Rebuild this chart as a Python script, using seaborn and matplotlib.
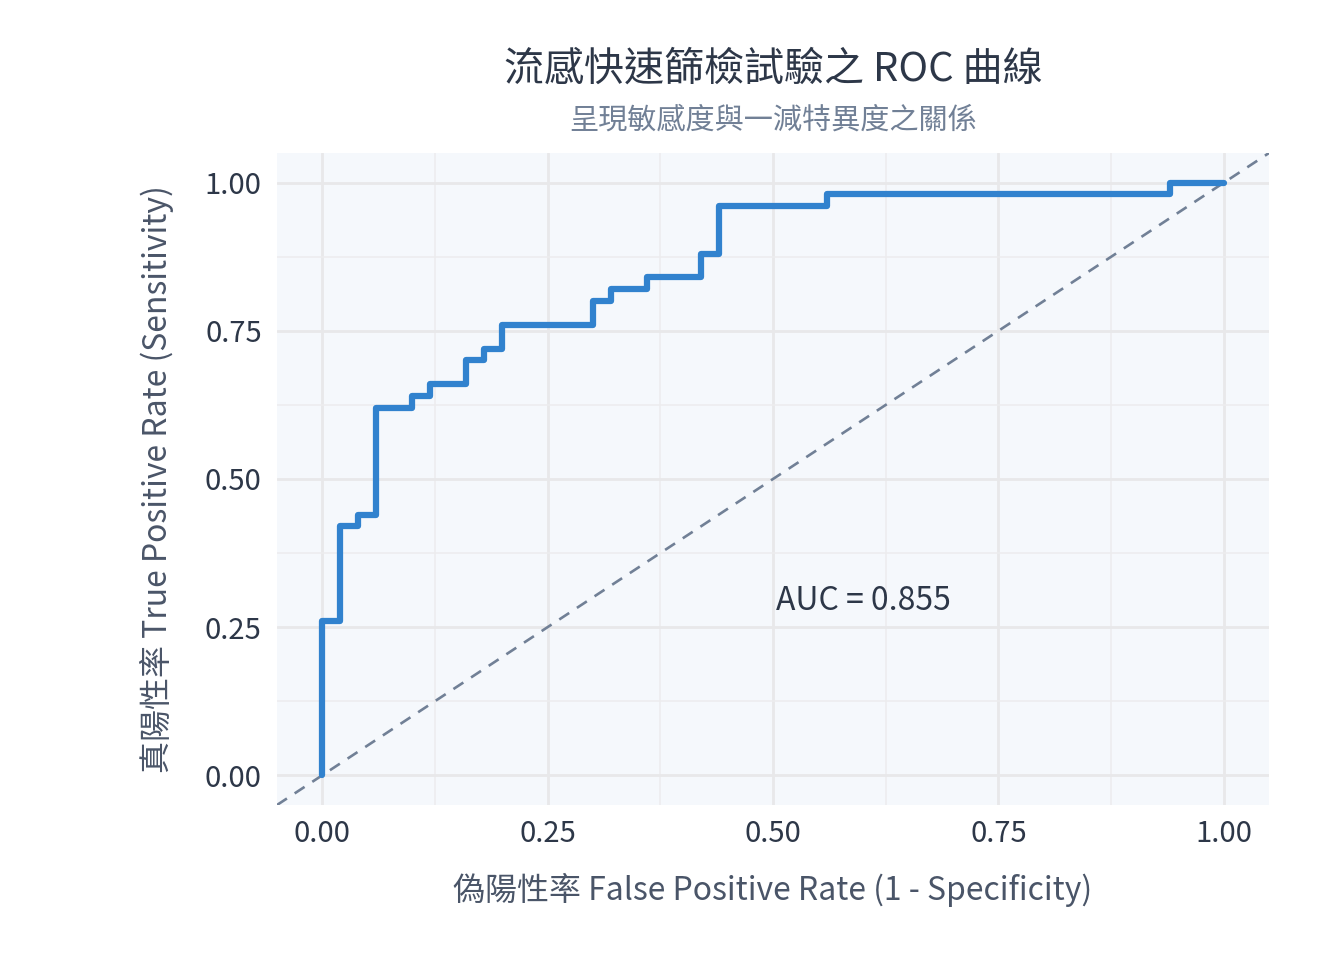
import numpy as np
import pandas as pd
import seaborn as sns
import matplotlib.pyplot as plt
from matplotlib.ticker import MultipleLocator

# ROC corner points (50 positives / 50 negatives)
fpr = [0.00, 0.00, 0.02, 0.04, 0.06, 0.10, 0.12, 0.16, 0.18, 0.20,
       0.30, 0.32, 0.36, 0.42, 0.44, 0.56, 0.94, 1.00]
tpr = [0.00, 0.26, 0.42, 0.44, 0.62, 0.64, 0.66, 0.70, 0.72, 0.76,
       0.80, 0.82, 0.84, 0.88, 0.96, 0.98, 1.00, 1.00]
auc_value = 0.855
ticks = [0.00, 0.25, 0.50, 0.75, 1.00]

roc = pd.DataFrame({'fpr': fpr, 'tpr': tpr})

sns.set_style("whitegrid")
plt.rcParams['font.family'] = ['Noto Sans CJK TC', 'DejaVu Sans']

fig = plt.figure(figsize=(13.44, 9.6), dpi=100)
ax = fig.add_axes([277 / 1344, 1 - 805 / 960, (1269 - 277) / 1344, (805 - 153) / 960])
ax.set_facecolor('#f5f8fc')

# diagonal reference
ax.plot([-0.05, 1.05], [-0.05, 1.05], color='#718096', lw=1.9, ls=(0, (4.5, 3.5)), zorder=2)

sns.lineplot(data=roc, x='fpr', y='tpr', ax=ax, sort=False, estimator=None,
             drawstyle='steps-post', color='#3182ce', lw=4.5, zorder=3)

ax.text(0.503, 0.295, f'AUC = {auc_value:.3f}', fontsize=23, color='#2d3748',
        ha='left', va='center')

ax.set_xlim(-0.05, 1.05)
ax.set_ylim(-0.05, 1.05)
ax.set_xticks(ticks)
ax.set_yticks(ticks)
ax.set_xticklabels([f'{t:.2f}' for t in ticks])
ax.set_yticklabels([f'{t:.2f}' for t in ticks])
ax.xaxis.set_minor_locator(MultipleLocator(0.125))
ax.yaxis.set_minor_locator(MultipleLocator(0.125))
ax.grid(which='major', color='#e8e8ea', lw=2.0)
ax.grid(which='minor', color='#ececee', lw=1.1)
ax.tick_params(which='both', length=0, labelsize=21, colors='#2d3748')
ax.tick_params(axis='x', pad=10)
ax.tick_params(axis='y', pad=11)
for s in ax.spines.values():
    s.set_visible(False)

ax.set_xlabel('偽陽性率 False Positive Rate (1 - Specificity)', fontsize=23,
              color='#4a5568', labelpad=17)
ax.set_ylabel('真陽性率 True Positive Rate (Sensitivity)', fontsize=23,
              color='#4a5568', labelpad=22)

fig.text(773 / 1344, 1 - 70 / 960, '流感快速篩檢試驗之 ROC 曲線', fontsize=28.8,
         color='#2d3748', ha='center', va='center')
fig.text(773 / 1344, 1 - 121 / 960, '呈現敏感度與一減特異度之關係', fontsize=21,
         color='#718096', ha='center', va='center')

fig.savefig('out.png', dpi=100)
